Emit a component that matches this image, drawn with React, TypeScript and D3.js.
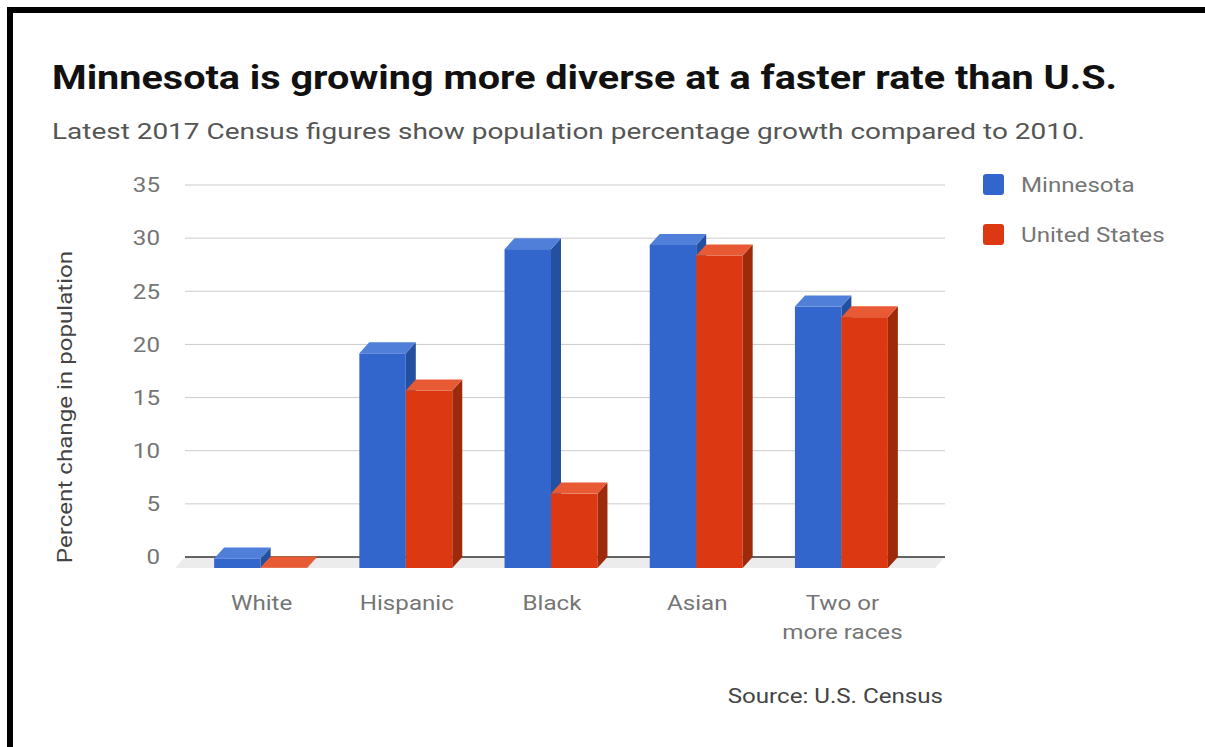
import React from "react";
import * as d3 from "d3";

const categories = ["White", "Hispanic", "Black", "Asian", "Two or more races"];
const categoryLines = [["White"], ["Hispanic"], ["Black"], ["Asian"], ["Two or", "more races"]];
const seriesNames = ["Minnesota", "United States"];
const minnesota = [0.9, 20.2, 30.0, 30.4, 24.6];
const unitedStates = [0.05, 16.7, 7.0, 29.4, 23.6];
const yTicks = [0, 5, 10, 15, 20, 25, 30, 35];

const W = 1205;
const H = 747;
const FONT = "Roboto, 'Noto Sans', sans-serif";
const DX = 10;
const DY = 11;
const SX = 1.15;
const FS = 21;

const colors = [
  { front: "#3366cc", top: "#4f7fd9", side: "#254f9f" },
  { front: "#dc3912", top: "#e85a33", side: "#9c2a0b" },
];

function SText(props: {
  x: number;
  y: number;
  anchor?: string;
  fill?: string;
  rotate?: number;
  children: React.ReactNode;
  dy?: string;
}) {
  const { x, y, anchor = "start", fill = "#757575", rotate = 0, children, dy } = props;
  return (
    <text
      transform={`translate(${x},${y}) rotate(${rotate}) scale(${SX},1)`}
      textAnchor={anchor}
      fontSize={FS}
      fill={fill}
      dy={dy}
    >
      {children}
    </text>
  );
}

export default function App() {
  const y = d3.scaleLinear().domain([0, 35]).range([557, 185]);
  const x = d3
    .scaleBand<string>()
    .domain(categories)
    .range([188, 914])
    .paddingInner(0.36)
    .paddingOuter(0.18);
  const inner = d3.scaleBand<string>().domain(seriesNames).range([0, x.bandwidth()]).padding(0);
  const values = [minnesota, unitedStates];
  const gridLeft = 185;
  const gridRight = 945;
  const y0 = y(0);

  const bars: React.ReactNode[] = [];
  categories.forEach((c, ci) => {
    seriesNames.forEach((s, si) => {
      const v = values[si][ci];
      const x0 = (x(c) as number) + (inner(s) as number);
      const x1 = x0 + inner.bandwidth();
      const yb = y(v);
      const yf = yb + DY;
      const yfb = y0 + DY;
      const col = colors[si];
      bars.push(
        <g key={c + s}>
          <polygon
            points={`${x1},${yf} ${x1 + DX},${yb} ${x1 + DX},${y0} ${x1},${yfb}`}
            fill={col.side}
          />
          <rect x={x0} y={yf} width={x1 - x0} height={Math.max(0, yfb - yf)} fill={col.front} />
          <polygon
            points={`${x0},${yf} ${x0 + DX},${yb} ${x1 + DX},${yb} ${x1},${yf}`}
            fill={col.top}
          />
        </g>
      );
    });
  });

  return (
    <svg
      width={W}
      height={H}
      style={{ position: "absolute", left: 0, top: 0, background: "#fff" }}
      fontFamily={FONT}
    >
      <rect x={0} y={0} width={W} height={H} fill="#fff" />
      <rect x={7} y={7} width={W} height={6} fill="#000" />
      <rect x={7} y={7} width={6} height={H} fill="#000" />

      <text
        x={52}
        y={89}
        fontSize={33}
        fontWeight="bold"
        fill="#111"
        textLength={1065}
        lengthAdjust="spacingAndGlyphs"
      >
        Minnesota is growing more diverse at a faster rate than U.S.
      </text>
      <text x={52} y={139} fontSize={22} fill="#555" textLength={1033} lengthAdjust="spacingAndGlyphs">
        Latest 2017 Census figures show population percentage growth compared to 2010.
      </text>

      <polygon
        points={`${gridLeft - DX},${y0 + DY} ${gridLeft},${y0} ${gridRight},${y0} ${gridRight - DX},${y0 + DY}`}
        fill="#ececec"
      />

      {yTicks.map((t) => (
        <g key={t}>
          {t !== 0 && (
            <line x1={gridLeft} x2={gridRight} y1={y(t)} y2={y(t)} stroke="#cccccc" strokeWidth={1} />
          )}
          <SText x={160} y={y(t)} dy="0.35em" anchor="end">
            {t}
          </SText>
        </g>
      ))}
      <line x1={gridLeft} x2={gridRight} y1={y0} y2={y0} stroke="#333" strokeWidth={1.5} />

      {bars}

      {categories.map((c, ci) =>
        categoryLines[ci].map((ln, li) => (
          <SText
            key={c + li}
            x={(x(c) as number) + x.bandwidth() / 2 + 1}
            y={610 + li * 29}
            anchor="middle"
          >
            {ln}
          </SText>
        ))
      )}

      <SText x={72} y={407} rotate={-90} anchor="middle" fill="#444">
        Percent change in population
      </SText>

      {seriesNames.map((s, si) => (
        <g key={s}>
          <rect x={983} y={174 + si * 50} width={21} height={21} rx={3} fill={colors[si].front} />
          <SText x={1021} y={184.5 + si * 50} dy="0.35em">
            {s}
          </SText>
        </g>
      ))}

      <SText x={943} y={703} anchor="end" fill="#444">
        Source: U.S. Census
      </SText>
    </svg>
  );
}
